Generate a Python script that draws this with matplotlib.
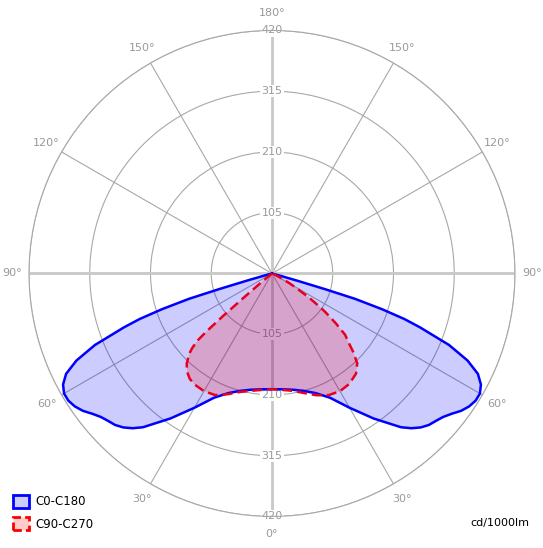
import numpy as np
import matplotlib.pyplot as plt
from matplotlib.patches import Patch

# light distribution, gamma angle from nadir (deg) -> cd/1000lm
gamma_c0 = [0, 5, 10, 15, 20, 25, 30, 35, 40, 42, 44, 46, 48, 50, 52, 54, 56, 58,
            60, 62, 64, 66, 68, 70, 71, 72, 73, 73.5, 74, 74.5, 75, 80, 90]
c0_c180 = [200, 201, 204, 210, 220, 237, 268, 306, 347, 360, 370, 377, 381, 386, 394,
           404, 411, 415, 415, 409, 396, 370, 330, 272, 242, 200, 150, 95, 45, 15, 4, 0, 0]

gamma_c90 = [0, 5, 10, 15, 20, 25, 30, 35, 40, 43.5, 46, 48, 50, 52, 54, 55, 57,
             59, 61, 63, 66, 70, 90]
c90 = [200, 202, 206, 214, 224, 232, 235, 233, 226, 214, 195, 178, 165, 140, 115,
       102, 75, 50, 33, 18, 6, 0, 0]

gamma_c270 = [0, 5, 10, 15, 20, 25, 30, 35, 38, 41, 43.5, 46, 47, 48, 48.5, 49,
              49.5, 50, 51, 52, 90]
c270 = [200, 202, 206, 212, 222, 232, 235, 234, 231, 224, 214, 198, 188, 172, 150,
        110, 60, 25, 5, 0, 0]

r_ticks = [105, 210, 315, 420]
angle_ticks = [0, 30, 60, 90, 120, 150, 180, 210, 240, 270, 300, 330]
angle_labels = ['0°', '30°', '60°', '90°', '120°', '150°', '180°',
                '150°', '120°', '90°', '60°', '30°']

def both_sides(g_right, v_right, g_left, v_left):
    th = np.concatenate([-np.radians(g_left[::-1]), np.radians(g_right)])
    r = np.concatenate([v_left[::-1], v_right])
    return th, r

fig = plt.figure(figsize=(5.43, 5.48), dpi=100)
ax = fig.add_axes([0.0534, 0.0575, 0.895, 0.887], projection='polar')
ax.set_theta_zero_location('S')
ax.set_theta_direction(1)
ax.set_ylim(0, 420)
ax.set_axisbelow(True)

gridc = '#a8a8a8'
ax.set_thetagrids(angle_ticks, angle_labels, color='#999999', fontsize=8)
ax.set_rgrids(r_ticks, labels=[''] * len(r_ticks))
ax.grid(True, color=gridc, lw=0.8)
ax.spines['polar'].set_color(gridc)
ax.spines['polar'].set_linewidth(0.8)
ax.tick_params(axis='x', pad=2)

# main axes: thick light lines
for t in [0, np.pi, np.pi / 2, -np.pi / 2]:
    ax.plot([t, t], [0, 420], color='#c8c8c8', lw=2, zorder=1)

for rv in r_ticks:
    for t in [0, np.pi]:
        ax.text(t, rv, str(rv), ha='center', va='center', fontsize=8, color='#999999',
                bbox=dict(facecolor='white', edgecolor='none', pad=0.8), zorder=1.5)

th_b, r_b = both_sides(gamma_c0, c0_c180, gamma_c0, c0_c180)
th_r, r_r = both_sides(gamma_c90, c90, gamma_c270, c270)

ax.fill(th_b, r_b, color='#0000ff', alpha=0.2, lw=0, zorder=2)
ax.fill(th_r, r_r, color='#ff0000', alpha=0.2, lw=0, zorder=2)
ax.plot(th_b, r_b, color='#0000ff', lw=1.8, zorder=3)
ax.plot(th_r, r_r, color='#e8001c', lw=1.8, ls=(0, (4, 2)), zorder=3)

handles = [Patch(facecolor='#ccccff', edgecolor='#0000ff', lw=2),
           Patch(facecolor='#ffcccc', edgecolor='#ff0000', lw=2, ls=(0, (3, 1.5)))]
fig.legend(handles, ['C0-C180', 'C90-C270'], loc='lower left',
           bbox_to_anchor=(0.018, 0.025), frameon=False, fontsize=8.5,
           handlelength=1.35, handleheight=1.35, handletextpad=0.55,
           labelspacing=0.75, borderaxespad=0, borderpad=0.3)
fig.text(0.975, 0.037, 'cd/1000lm', ha='right', va='bottom', fontsize=8)

fig.savefig('out.png', dpi=100)
